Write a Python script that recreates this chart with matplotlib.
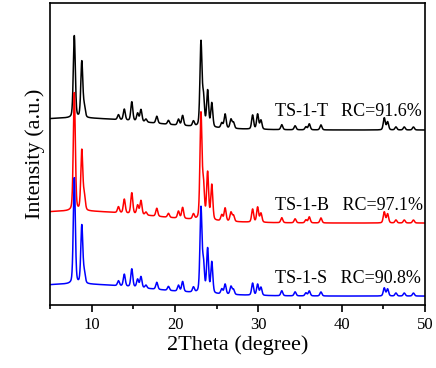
import numpy as np
import matplotlib
matplotlib.use("Agg")
import matplotlib.pyplot as plt
from matplotlib.ticker import MultipleLocator

# peak positions (2theta)
peak_pos = [7.9, 8.8, 9.1, 13.2, 13.9, 14.8, 15.5, 15.9, 16.5, 17.8, 19.2, 20.4, 20.9,
            22.2, 23.1, 23.4, 23.9, 24.4, 25.6, 26.0, 26.7, 27.0, 29.3, 29.9, 30.3,
            32.8, 34.4, 35.7, 36.1, 37.5, 45.1, 45.5, 46.5, 47.5, 48.6]

# peak heights above baseline for each sample
h_T = [82, 56, 10, 5, 11, 19, 8, 12, 3, 7, 4, 6, 10,
       5, 84, 28, 36, 24, 5, 14, 9, 6, 14, 15, 9,
       5, 4, 3, 6, 5, 12, 8, 3, 3, 3]
h_B = [118, 60, 14, 6, 14, 21, 9, 14, 3, 8, 4, 7, 11,
       5, 105, 33, 47, 35, 6, 13, 9, 6, 13, 15, 9,
       5, 4, 3, 6, 5, 11, 9, 3, 3, 3]
h_S = [106, 58, 10, 5, 12, 18, 8, 11, 3, 7, 4, 6, 10,
       5, 84, 28, 44, 31, 5, 10, 8, 5, 12, 11, 8,
       5, 4, 3, 5, 4, 8, 7, 3, 3, 3]

samples = ["TS-1-T", "TS-1-B", "TS-1-S"]
rc = ["91.6%", "97.1%", "90.8%"]
colors = ["black", "red", "blue"]
offsets = [175, 82, 9]

theta = np.linspace(5, 50, 3000)


def pattern(heights):
    y = np.zeros_like(theta)
    for p, h in zip(peak_pos, heights):
        g = np.exp(-0.5 * ((theta - p) / 0.12) ** 2)
        lz = 1 / (1 + ((theta - p) / 0.14) ** 2)
        y += h * (0.7 * g + 0.3 * lz)
    # broad background hump at low angle
    y += 12 * np.exp(-0.5 * ((theta - 8) / 9) ** 2)
    return y


plt.rcParams['font.family'] = ['Liberation Serif', 'DejaVu Serif']
fig = plt.figure(figsize=(4.36, 3.68), dpi=100)
ax = fig.add_axes([0.115, 0.171, 0.86, 0.821])

for name, r, c, off, hh in zip(samples, rc, colors, offsets, [h_T, h_B, h_S]):
    ax.plot(theta, pattern(hh) + off, color=c, lw=1.1)
    ax.text(32.0, off + 18, f"{name}   RC={r}", fontsize=13, color="black",
            va="center", ha="left")

ax.set_xlim(5, 50)
ax.set_ylim(0, 302)
ax.set_yticks([])
ax.xaxis.set_major_locator(MultipleLocator(10))
ax.xaxis.set_minor_locator(MultipleLocator(5))
ax.tick_params(axis="x", which="major", direction="out", length=5, width=1.2, labelsize=12)
ax.tick_params(axis="x", which="minor", direction="out", length=3, width=1.2)
for s in ax.spines.values():
    s.set_linewidth(1.2)
ax.set_xlabel("2Theta (degree)", fontsize=16, labelpad=2)
ax.set_ylabel("Intensity (a.u.)", fontsize=16, labelpad=4)

fig.savefig("out.png", dpi=100)
